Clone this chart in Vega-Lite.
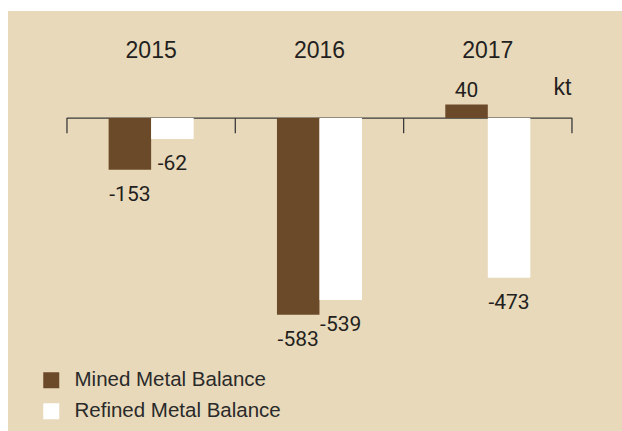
{
  "$schema": "https://vega.github.io/schema/vega-lite/v6.json",
  "width": 614,
  "height": 420,
  "autosize": {"type": "none"},
  "padding": {"left": 8, "top": 11, "right": 0, "bottom": 0},
  "background": "#ffffff",
  "config": {
    "view": {"fill": "#E8D9BA", "stroke": null},
    "font": "Liberation Sans"
  },
  "data": {
    "values": [
      {"year": "2015", "type": "Mined Metal Balance", "value": -153},
      {"year": "2015", "type": "Refined Metal Balance", "value": -62},
      {"year": "2016", "type": "Mined Metal Balance", "value": -583},
      {"year": "2016", "type": "Refined Metal Balance", "value": -539},
      {"year": "2017", "type": "Mined Metal Balance", "value": 40},
      {"year": "2017", "type": "Refined Metal Balance", "value": -473}
    ]
  },
  "encoding": {
    "x": {
      "field": "year",
      "type": "nominal",
      "scale": {"paddingInner": 0, "paddingOuter": 0.3238, "align": 0.541},
      "axis": {
        "orient": "top",
        "title": null,
        "labelAngle": 0,
        "domain": false,
        "ticks": false,
        "tickSize": 0,
        "labelPadding": 0,
        "labelBaseline": "middle",
        "offset": -39,
        "labelFontSize": 23,
        "labelColor": "#231f20",
        "grid": false
      }
    }
  },
  "layer": [
    {
      "transform": [{"filter": "datum.type === 'Mined Metal Balance'"}],
      "mark": {"type": "tick", "size": 168.6, "thickness": 1.3, "color": "#3a3a3a", "opacity": 1},
      "encoding": {
        "y": {"datum": 0, "type": "quantitative", "scale": {"domain": [-927, 317], "nice": false, "zero": true},
          "axis": {"orient": "right", "title": "kt", "labels": false, "ticks": false, "domain": false, "grid": false,
            "titleAngle": 0, "titleX": -60, "titleY": 76, "titleAlign": "center", "titleBaseline": "middle",
            "titleFontSize": 23, "titleFontWeight": "normal", "titleColor": "#231f20"}}
      }
    },
    {
      "transform": [{"filter": "datum.type === 'Mined Metal Balance'"}],
      "mark": {"type": "rule", "color": "#3a3a3a", "strokeWidth": 1.3},
      "encoding": {
        "x": {"field": "year", "type": "nominal", "bandPosition": 0},
        "y": {"datum": 0, "type": "quantitative"},
        "y2": {"datum": -45}
      }
    },
    {
      "transform": [{"filter": "datum.type === 'Mined Metal Balance' && datum.year === '2017'"}],
      "mark": {"type": "rule", "color": "#3a3a3a", "strokeWidth": 1.3},
      "encoding": {
        "x": {"field": "year", "type": "nominal", "bandPosition": 1},
        "y": {"datum": 0, "type": "quantitative"},
        "y2": {"datum": -45}
      }
    },
    {
      "mark": {"type": "bar", "strokeWidth": 0},
      "encoding": {
        "y": {"field": "value", "type": "quantitative"},
        "xOffset": {"field": "type", "type": "nominal", "scale": {"paddingInner": 0, "paddingOuter": 0.98}},
        "color": {
          "field": "type",
          "type": "nominal",
          "scale": {"domain": ["Mined Metal Balance", "Refined Metal Balance"], "range": ["#6B4A2A", "#FFFFFF"]},
          "legend": {
            "title": null,
            "orient": "none",
            "legendX": 33,
            "legendY": 359,
            "padding": 0,
            "symbolType": "square",
            "symbolSize": 256,
            "symbolStrokeWidth": 0,
            "symbolOpacity": 1,
            "labelFontSize": 20.5,
            "labelColor": "#2a2a2a",
            "labelOffset": 13,
            "rowPadding": 10,
            "labelLimit": 400
          }
        }
      }
    },
    {
      "transform": [{"filter": "datum.value < 0"}],
      "mark": {"type": "text", "baseline": "top", "dy": 14, "font": "Roboto", "fontSize": 21, "color": "#231f20"},
      "encoding": {
        "y": {"field": "value", "type": "quantitative"},
        "xOffset": {"field": "type", "type": "nominal"},
        "text": {"field": "value", "type": "nominal"}
      }
    },
    {
      "transform": [{"filter": "datum.value >= 0"}],
      "mark": {"type": "text", "baseline": "bottom", "dy": -4, "font": "Roboto", "fontSize": 21, "color": "#231f20"},
      "encoding": {
        "y": {"field": "value", "type": "quantitative"},
        "xOffset": {"field": "type", "type": "nominal"},
        "text": {"field": "value", "type": "nominal"}
      }
    }
  ]
}
